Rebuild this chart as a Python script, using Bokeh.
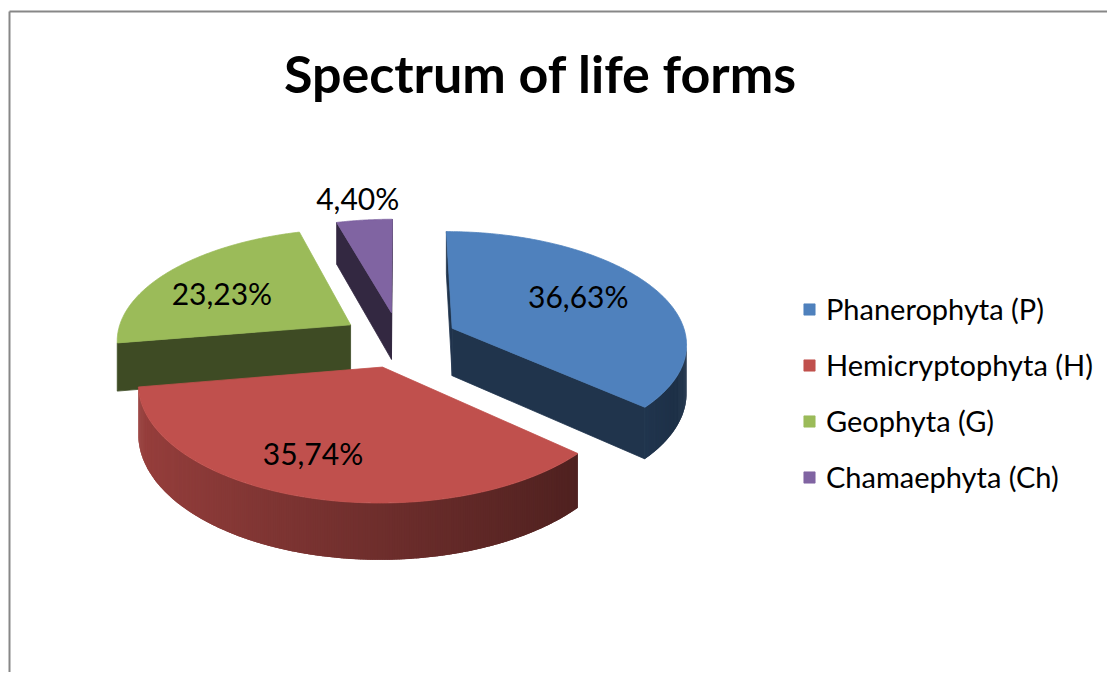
import numpy as np
from bokeh.plotting import figure
from bokeh.models import Range1d, Legend, LegendItem, ColumnDataSource
from bokeh.core.properties import value
from bokeh.embed import file_html
from bokeh.resources import INLINE

# ---------------- data ----------------
title_text = "Spectrum of life forms"
categories = ["Phanerophyta (P)", "Hemicryptophyta (H)", "Geophyta (G)", "Chamaephyta (Ch)"]
shares = [36.63, 35.74, 23.23, 4.40]
share_labels = ["36,63%", "35,74%", "23,23%", "4,40%"]

# ---------------- style ----------------
top_colors = ["#4F81BD", "#C0504D", "#9BBB59", "#8064A2"]
FONT = "Lato"
W, H = 1107, 672

# ---------------- 3D pie layout (page pixel space) ----------------
CX, CY = 398.8, 339.0      # pie centre
RX, RY = 234.6, 111.4      # radii of the projected disc
PERSP = 0.125              # perspective strength
THICK = 48.0               # pie thickness
EXPLODE = 0.25             # explosion (fraction of radius)
label_radius = [0.65, 0.71, 0.66, 1.28]
label_turn = [-4.0, 5.0, -5.0, 0.0]
RADIAL_SHADE = 0.40


def proj(u, v, h):
    u = np.asarray(u, float)
    v = np.asarray(v, float)
    h = np.asarray(h, float)
    w = 1.0 + PERSP * v
    return CX + RX * u / w, CY + (-RY * v + THICK * h) / w


CAM = np.array([0.0, -1.0 / PERSP])


def shade(hex_color, f):
    rgb = [int(hex_color[i:i + 2], 16) for i in (1, 3, 5)]
    return "#%02x%02x%02x" % tuple(int(round(min(255, c * f))) for c in rgb)


def curved_shade(theta_deg):
    return float(np.clip(0.574 + 0.221 * np.cos(np.radians(theta_deg - 270.0)), 0.38, 1.0))


total = float(sum(shares))
ends = np.cumsum(shares) / total * 360.0
starts = np.concatenate([[0.0], ends[:-1]])
mids = (starts + ends) / 2.0
offs = [(EXPLODE * np.sin(np.radians(m)), EXPLODE * np.cos(np.radians(m))) for m in mids]

xs, ys, cols, las = [], [], [], []
top_index = {}

order = sorted(range(len(shares)), key=lambda i: -offs[i][1])  # back to front
for i in order:
    a, b = starts[i], ends[i]
    ou, ov = offs[i]
    base = top_colors[i]
    ar, br = np.radians(a), np.radians(b)
    apex = np.array([ou, ov])

    # radial (cut) faces
    for ang, n in ((ar, np.array([-np.cos(ar), np.sin(ar)])),
                   (br, np.array([np.cos(br), -np.sin(br)]))):
        if np.dot(n, CAM - apex) > 0:
            uu = [ou, ou + np.sin(ang), ou + np.sin(ang), ou]
            vv = [ov, ov + np.cos(ang), ov + np.cos(ang), ov]
            px, py = proj(uu, vv, [0, 0, 1, 1])
            xs.append(list(px)); ys.append(list(py))
            cols.append(shade(base, RADIAL_SHADE)); las.append(1.0)

    # curved outer side as thin overlapping strips (gradient)
    step = 0.5
    nstrip = max(2, int(np.ceil((b - a) / step)))
    th = np.linspace(a, b, nstrip + 1)
    strips = []
    for k in range(nstrip):
        t1, t2 = th[k], th[k + 1]
        tm = np.radians((t1 + t2) / 2)
        n = np.array([np.sin(tm), np.cos(tm)])
        if np.dot(n, CAM - (apex + n)) > 0:
            e1 = max(a, t1 - step * 0.6)
            e2 = min(b, t2 + step * 0.6)
            tt = np.radians(np.array([e1, e2, e2, e1]))
            px, py = proj(ou + np.sin(tt), ov + np.cos(tt), [0, 0, 1, 1])
            strips.append((n[1], list(px), list(py), shade(base, curved_shade(np.degrees(tm)))))
    strips.sort(key=lambda s: -s[0])
    for _, px, py, c in strips:
        xs.append(px); ys.append(py); cols.append(c); las.append(0.0)

    # top face
    tt = np.radians(np.linspace(a, b, 200))
    uu = np.concatenate([[ou], ou + np.sin(tt)])
    vv = np.concatenate([[ov], ov + np.cos(tt)])
    px, py = proj(uu, vv, np.zeros_like(uu))
    top_index[i] = len(xs)
    xs.append(list(px)); ys.append(list(py)); cols.append(base); las.append(1.0)

src = ColumnDataSource(dict(xs=xs, ys=ys, color=cols, la=las))

p = figure(width=W, height=H, x_range=Range1d(0, W), y_range=Range1d(H, 0),
           x_axis_type=None, y_axis_type=None, toolbar_location=None,
           output_backend="svg", min_border=0, outline_line_color=None)
p.background_fill_color = "white"
p.border_fill_color = "white"

# chart border (top and left edges visible, the rest is cut off by the window)
p.segment(x0=[9, 9], y0=[11, 11], x1=[W, 9], y1=[11, H], line_color="#878787", line_width=2)

r = p.patches("xs", "ys", source=src, fill_color="color", line_color="color",
              line_alpha="la", line_width=0.8)

# data labels
lx, ly = [], []
for i in range(len(shares)):
    ou, ov = offs[i]
    m = np.radians(mids[i] + label_turn[i])
    px, py = proj(ou + label_radius[i] * np.sin(m), ov + label_radius[i] * np.cos(m), 0.0)
    lx.append(float(px)); ly.append(float(py))
lab_src = ColumnDataSource(dict(x=lx, y=ly, text=share_labels))
p.text("x", "y", text="text", source=lab_src, text_font=value(FONT), text_font_size="30px",
       text_align="center", text_baseline="middle", text_color="#000000")

# title
p.text(x=[540], y=[72], text=[title_text], text_font=value(FONT), text_font_style="bold",
       text_font_size="52px", text_align="center", text_baseline="middle", text_color="#000000")

items = [LegendItem(label=categories[i], renderers=[r], index=top_index[i]) for i in range(len(categories))]
legend = Legend(items=items, location=(802, 178), orientation="vertical",
                glyph_width=14, glyph_height=14, label_standoff=10, spacing=21,
                padding=0, margin=0, border_line_color=None, background_fill_alpha=0,
                label_text_font=FONT, label_text_font_size="29px", label_text_color="#000000")
p.add_layout(legend)

open("out.html", "w").write(file_html(p, INLINE))
